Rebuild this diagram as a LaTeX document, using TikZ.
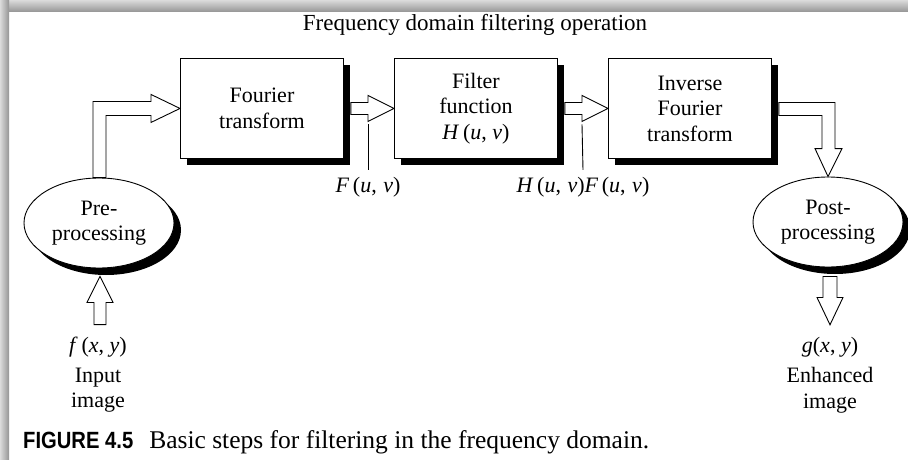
\documentclass[tikz,border=0pt]{standalone}
\usepackage{fontspec}
\setmainfont{Liberation Serif}
\newfontfamily\capfont[FakeStretch=0.86]{Liberation Sans}
\usetikzlibrary{calc,shapes.geometric,shadows}
\begin{document}
\begin{tikzpicture}[x=1pt,y=-1pt,
  txt/.style={font=\fontsize{22}{25.5}\selectfont, inner sep=0pt, align=center},
  procbox/.style={txt, draw, line width=0.9pt, fill=white, minimum width=163pt, minimum height=100pt, anchor=north west,
     general shadow={fill=black, shadow xshift=7pt, shadow yshift=-7pt}},
  procell/.style={txt, ellipse, draw, line width=0.9pt, fill=white, minimum width=150pt, minimum height=90pt,
     general shadow={fill=black, shadow xshift=7pt, shadow yshift=-7pt}},
  hollow/.style={draw, line width=0.9pt, fill=white, line join=miter},
  pointer/.style={draw, line width=0.9pt}
]
\useasboundingbox (0,0) rectangle (908,460);
\fill[white] (0,0) rectangle (908,460);
\shade[top color=black!14, bottom color=black!42] (0,0) rectangle (908,12);
\shade[left color=black!14, right color=black!42] (0,0) rectangle (9,460);

% title
\node[txt, font=\fontsize{23}{26}\selectfont] (title) at (475,25) {Frequency domain filtering operation};

% boxes
\node[procbox] (b1) at (180,58) {Fourier\\transform};
\node[procbox] (b2) at (394,58) {Filter\\function\\\textit{H}\,(\textit{u}, \textit{v})};
\node[procbox] (b3) at (608,58) {Inverse\\Fourier\\transform};

% ellipses
\node[procell] (pre) at (99,223) {Pre-\\processing};
\node[procell] (post) at (828,222) {Post-\\processing};

% labels
\node[txt] (lf) at (368,187) {\textit{F}\,(\textit{u},\kern1pt{} \textit{v})};
\node[txt] (lhf) at (583,187) {\textit{H}\,(\textit{u},\kern1pt{} \textit{v})\textit{F}\,(\textit{u},\kern1pt{} \textit{v})};
\node[txt] (fin) at (98,347) {\textit{f}\,(\textit{x}, \textit{y})};
\node[txt] (inlab) at (98,390) {Input\\image};
\node[txt] (gout) at (830,347) {\textit{g}(\textit{x}, \textit{y})};
\node[txt] (outlab) at (830,390) {Enhanced\\image};

% arrow b1 -> b2
\draw[hollow] ($(b1.east)+(7,-6)$) -- ($(b2.west)+(-26,-6)$) -- ($(b2.west)+(-26,-13)$) -- (b2.west)
  -- ($(b2.west)+(-26,13)$) -- ($(b2.west)+(-26,6)$) -- ($(b1.east)+(7,6)$) -- cycle;
\draw[pointer] ($(b2.west)+(-26,16)$) -- ($(lf.north)+(0,-7)$);

% arrow b2 -> b3
\draw[hollow] ($(b2.east)+(7,-6)$) -- ($(b3.west)+(-26,-6)$) -- ($(b3.west)+(-26,-13)$) -- (b3.west)
  -- ($(b3.west)+(-26,13)$) -- ($(b3.west)+(-26,6)$) -- ($(b2.east)+(7,6)$) -- cycle;
\draw[pointer] ($(b3.west)+(-26,16)$) -- ($(lhf.north)+(0,-7)$);

% elbow arrow pre -> b1
\draw[hollow] ($(pre.north)+(-6,0)$) |- ($(b1.west)+(-29,-7)$) -- ($(b1.west)+(-29,-14)$) -- (b1.west)
  -- ($(b1.west)+(-29,14)$) -- ($(b1.west)+(-29,7)$) -| ($(pre.north)+(7,0)$) -- cycle;

% elbow arrow b3 -> post
\draw[hollow] ($(b3.east)+(7,-6)$) -| ($(post.north)+(7,-28)$) -- ($(post.north)+(14,-28)$) -- (post.north)
  -- ($(post.north)+(-13,-28)$) -- ($(post.north)+(-6,-28)$) |- ($(b3.east)+(7,7)$) -- cycle;

% input arrow f -> pre
\draw[hollow] ($(pre.south)+(1,8)$) -- ($(pre.south)+(14,34)$) -- ($(pre.south)+(7,34)$) -- ($(fin.north)+(8,-12)$)
  -- ($(fin.north)+(-4,-12)$) -- ($(pre.south)+(-5,34)$) -- ($(pre.south)+(-12,34)$) -- cycle;

% output arrow post -> g
\draw[hollow] ($(post.south)+(-5,9)$) -- ($(post.south)+(-5,30)$) -- ($(post.south)+(-11,30)$) -- ($(gout.north)+(0,-12)$)
  -- ($(post.south)+(15,30)$) -- ($(post.south)+(9,30)$) -- ($(post.south)+(9,9)$) -- cycle;

% caption
\node[txt, font=\fontsize{25.5}{28}\selectfont, anchor=base west] (cap) at (23,448)
  {{\capfont\bfseries\fontsize{23.5}{26}\selectfont FIGURE 4.5}\hspace{16pt}Basic steps for filtering in the frequency domain.};
\end{tikzpicture}
\end{document}
